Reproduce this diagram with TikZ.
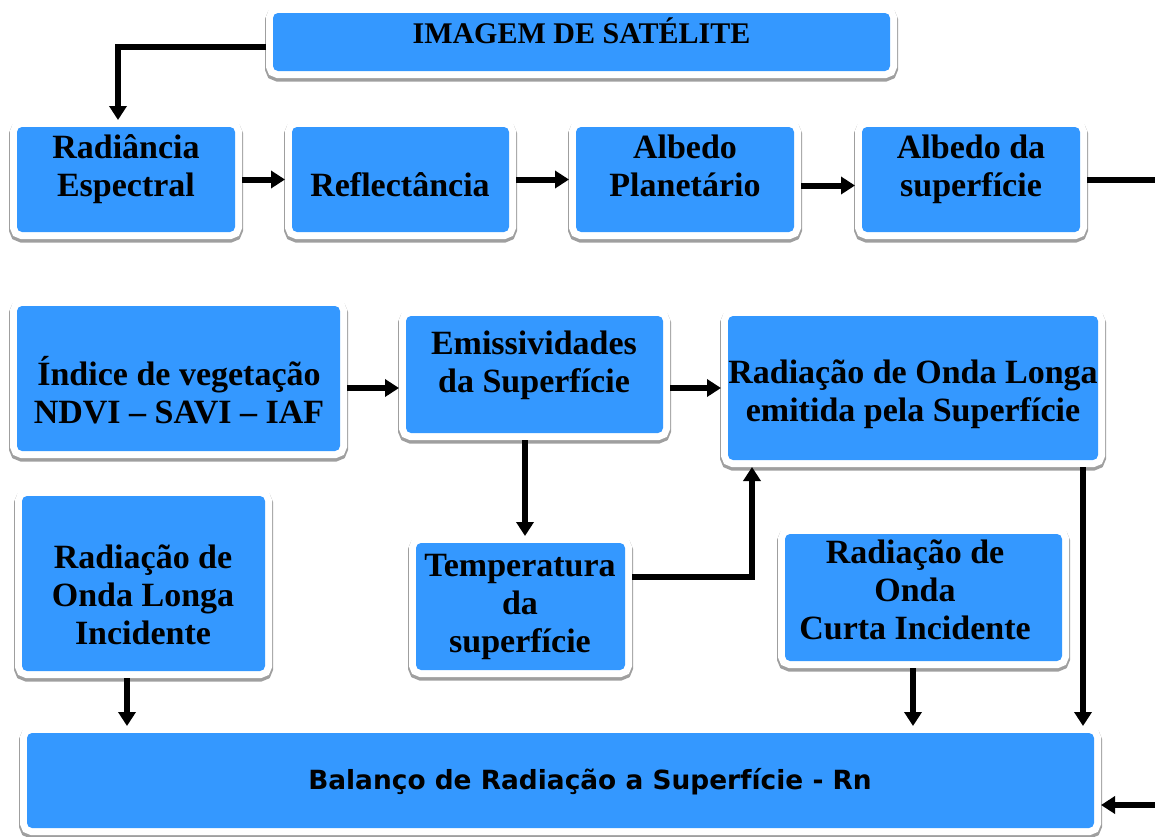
\documentclass[tikz,border=0pt]{standalone}
\usepackage{fontspec}
\setmainfont{Liberation Serif}
\newfontfamily\balfont{DejaVu Sans}
\usetikzlibrary{arrows.meta}

\definecolor{boxblue}{RGB}{52,152,255}

\tikzset{
  box/.style={rounded corners=5pt, fill=boxblue, inner sep=0pt, outer sep=7pt,
    preaction={draw=gray!75, line width=16pt, transform canvas={yshift=-2.5pt}},
    preaction={draw=white, line width=14pt}},
  txt/.style={align=center, font=\fontsize{34}{38}\selectfont\bfseries},
  flow/.style={line width=6pt, -{Triangle[length=14pt,width=17pt]}},
}

\begin{document}
\begin{tikzpicture}[x=1pt,y=-1pt]
\useasboundingbox (0,0) rectangle (1155,836);

% caixas
\node[box, minimum width=617, minimum height=58] (img) at (581.5,42) {};
\node[box, minimum width=218, minimum height=105] (rad) at (126,179.5) {};
\node[box, minimum width=217, minimum height=105] (refl) at (400.5,179.5) {};
\node[box, minimum width=218, minimum height=105] (albp) at (685,179.5) {};
\node[box, minimum width=218, minimum height=105] (albs) at (971,179.5) {};
\node[box, minimum width=323, minimum height=145] (ndvi) at (178.5,378.5) {};
\node[box, minimum width=257, minimum height=117] (emis) at (534.5,374.5) {};
\node[box, minimum width=370, minimum height=144] (rlem) at (913,388) {};
\node[box, minimum width=209, minimum height=127] (temp) at (520.5,606.5) {};
\node[box, minimum width=243, minimum height=175] (rlinc) at (143.5,583.5) {};
\node[box, minimum width=277, minimum height=127] (rcinc) at (923.5,597.5) {};
\node[box, minimum width=1067, minimum height=95] (bal) at (560.5,780.5) {};

% textos
\node[txt, font=\fontsize{30}{36}\selectfont\bfseries] (imgT) at (581.5,31) {IMAGEM DE SATÉLITE};
\node[txt] (radT) at (126,169) {Radiância\\Espectral};
\node[txt] (reflT) at (400,185) {Reflectância};
\node[txt] (albpT) at (685,166) {Albedo\\Planetário};
\node[txt] (albsT) at (971,169) {Albedo da\\superfície};
\node[txt] (ndviT) at (179,390) {Índice de vegetação\\NDVI – SAVI – IAF};
\node[txt] (emisT) at (534,365) {Emissividades\\da Superfície};
\node[txt] (rlemT) at (913,394) {Radiação de Onda Longa\\emitida pela Superfície};
\node[txt] (tempT) at (520,607) {Temperatura\\da\\superfície};
\node[txt] (rlincT) at (143,595) {Radiação de\\Onda Longa\\Incidente};
\node[txt] (rcincT) at (915,590) {Radiação de\\Onda\\Curta Incidente};
\node[font=\balfont\fontsize{26.4}{30}\selectfont\bfseries] (balT) at (590,782) {Balanço de Radiação a Superfície - Rn};

\coordinate (albout) at (1155,179.5);
\coordinate (rnin) at (1155,805);

% setas
\draw[flow] ([yshift=-5pt]img.west) -| ([xshift=-8pt]rad.north);
\draw[flow] (rad.east) -- (refl.west);
\draw[flow] (refl.east) -- (albp.west);
\draw[flow] ([yshift=-6pt]albp.east) -- ([yshift=-6pt]albs.west);
\draw[line width=6pt] (albs.east) -- (albout);
\draw[flow] ([yshift=-9.5pt]ndvi.east) -- ([yshift=-13.5pt]emis.west);
\draw[flow] ([yshift=-13.5pt]emis.east) -- (rlem.west);
\draw[flow] ([xshift=-9.5pt]emis.south) -- ([xshift=-9.5pt]emis.south |- temp.north);
\draw[flow] ([yshift=29.5pt]temp.east) -| ([xshift=-161pt]rlem.south);
\draw[flow] ([xshift=-16.5pt]rlinc.south) -- ([xshift=-16.5pt]rlinc.south |- bal.north);
\draw[flow] ([xshift=-10.5pt]rcinc.south) -- ([xshift=-10.5pt]rcinc.south |- bal.north);
\draw[flow] ([xshift=170pt]rlem.south) -- ([xshift=170pt]rlem.south |- bal.north);
\draw[flow] (rnin) -- ([yshift=-24.5pt]bal.east);
\end{tikzpicture}
\end{document}
